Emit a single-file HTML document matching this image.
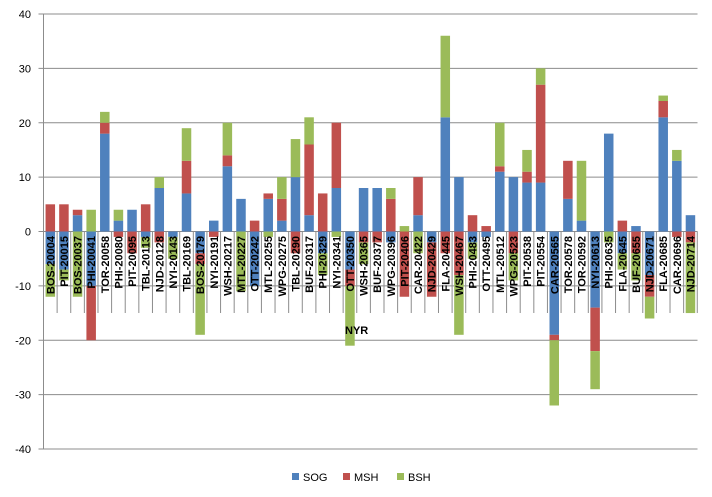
<!DOCTYPE html>
<html><head><meta charset="utf-8"><style>
body{margin:0;background:#fff}
svg{display:block;font-family:"Liberation Sans",sans-serif}
</style></head><body>
<svg id="c" width="712" height="497" xmlns="http://www.w3.org/2000/svg">
<g id="grid"></g><g id="bars"></g><g id="labs"></g>
<text x="345" y="334" font-size="11" font-weight="bold">NYR</text>
<rect x="292" y="473" width="7" height="7" fill="#4F81BD"/><text x="303" y="481" font-size="11">SOG</text>
<rect x="343" y="473" width="7" height="7" fill="#C0504D"/><text x="354" y="481" font-size="11">MSH</text>
<rect x="397" y="473" width="7" height="7" fill="#9BBB59"/><text x="408" y="481" font-size="11">BSH</text>
</svg>
<script>
var names=["BOS-20004","PIT-20015","BOS-20037","PHI-20041","TOR-20058","PHI-20080","PIT-20095","TBL-20113","NJD-20128","NYI-20143","TBL-20169","BOS-20179","NYI-20191","WSH-20217","MTL-20227","OTT-20242","MTL-20255","WPG-20275","TBL-20290","BUF-20317","PHI-20329","NYI-20341","OTT-20350","WSH-20365","BUF-20377","WPG-20396","PIT-20406","CAR-20422","NJD-20429","FLA-20445","WSH-20467","PHI-20483","OTT-20495","MTL-20512","WPG-20523","PIT-20538","PIT-20554","CAR-20565","TOR-20578","TOR-20592","NYI-20613","PHI-20635","FLA-20645","BUF-20655","NJD-20671","FLA-20685","CAR-20696","NJD-20714"];
var d=[[-6,5,-6],[-7,5,-2],[3,1,-12],[-10,-10,4],[18,2,2],[2,-1,2],[4,-4,0],[-1,5,-2],[8,-2,2],[-1,0,-4],
[7,6,6],[-4,-2,-13],[2,-1,0],[12,2,6],[6,0,-11],[-10,2,0],[6,1,-1],[2,4,4],[10,-4,7],[3,13,5],
[-4,7,-4],[8,12,-1],[-7,-3,-11],[8,-2,-4],[8,-2,0],[-2,6,2],[0,-12,1],[3,7,-4],[-2,-10,0],[21,-4,15],
[10,-8,-11],[-2,3,-3],[-1,1,0],[11,1,8],[10,-4,-5],[9,2,4],[9,18,3],[-19,-1,-12],[6,7,0],[2,0,11],
[-14,-8,-7],[18,0,-2],[-4,2,-3],[1,-4,-5],[-8,-4,-4],[21,3,1],[13,-1,2],[3,-2,-13]];
var col=["#4F81BD","#C0504D","#9BBB59"];
var NS="http://www.w3.org/2000/svg";
function el(p,t,a,txt){var e=document.createElementNS(NS,t);for(var k in a)e.setAttribute(k,a[k]);if(txt)e.textContent=txt;document.getElementById(p).appendChild(e);}
var y0=231.5,s=5.4375,L=43.5,R=697.5,w=13.62;
for(var v=-40;v<=40;v+=10){var y=y0-v*s;if(v!=0)el("grid","line",{x1:L,x2:R,y1:y,y2:y,stroke:"#8c8c8c","stroke-width":1});
el("grid","line",{x1:L-5,x2:L,y1:y,y2:y,stroke:"#8c8c8c"});
el("grid","text",{x:31,y:y+4,"font-size":11,"text-anchor":"end"},String(v));}
el("grid","line",{x1:L,x2:L,y1:y0-40*s,y2:y0+40*s,stroke:"#8c8c8c"});
for(var i=0;i<=48;i++){var x=L+i*w;el("grid","line",{x1:x,x2:x,y1:y0,y2:313,stroke:"#8c8c8c"});}
for(var i=0;i<48;i++){var cx=L+w*(i+0.5),bw=9.5,p=0,n=0;
for(var j=0;j<3;j++){var v=d[i][j];if(!v)continue;
if(v>0){el("bars","rect",{x:cx-bw/2,y:y0-(p+v)*s,width:bw,height:v*s,fill:col[j]});p+=v;}
else{el("bars","rect",{x:cx-bw/2,y:y0-n*s,width:bw,height:-v*s,fill:col[j]});n+=v;}}
el("labs","text",{transform:"translate("+(cx+4)+",236) rotate(-90)","font-size":11,"font-weight":"bold","text-anchor":"end"},names[i]);}
el("grid","line",{x1:L,x2:R,y1:y0,y2:y0,stroke:"#8c8c8c"});
</script>
</body></html>
